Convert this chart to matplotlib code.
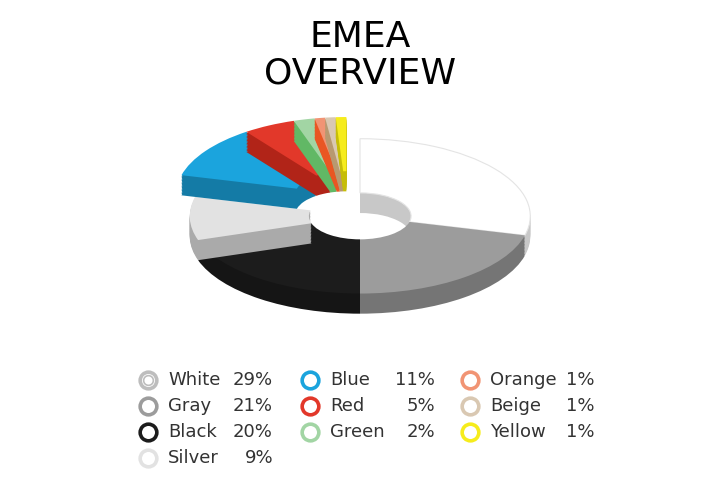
import matplotlib
matplotlib.use("Agg")
import matplotlib.pyplot as plt
from matplotlib.patches import Wedge
import colorsys
from matplotlib.colors import to_rgb

labels = ["White", "Gray", "Black", "Silver", "Blue", "Red", "Green", "Orange", "Beige", "Yellow"]
values = [29, 21, 20, 9, 11, 5, 2, 1, 1, 1]
colors = ["#ffffff", "#9c9c9c", "#1c1c1c", "#e2e2e2", "#1ba4dd", "#e2382a",
          "#a2d5a4", "#f19474", "#d9c8b2", "#f6ec1c"]
raised = ["Blue", "Red", "Green", "Orange", "Beige", "Yellow"]


def darker(c, f=0.75):
    r, g, b = to_rgb(c)
    h, l, s = colorsys.rgb_to_hls(r, g, b)
    return colorsys.hls_to_rgb(h, l * f, s)


fig = plt.figure(figsize=(7.2, 4.8), dpi=100)
ax = fig.add_axes([0.15, 1 - 340 / 480, 0.7, 240 / 480])
ax.set_xlim(-1.48, 1.48)
ax.set_ylim(-1.6, 1.5)
ax.axis("off")

depth = 0.26
steps = 14
angle = 90.0
slices = []
for lab, val, col in zip(labels, values, colors):
    span = val / 100 * 360
    slices.append((lab, angle - span, angle, col))
    angle -= span

for group in ("flat", "raised"):
    for lab, a0, a1, col in slices:
        up = lab in raised
        if (group == "raised") != up:
            continue
        cx, cy = (-0.08, 0.28) if up else (0.0, 0.0)
        side = "#c8c8c8" if lab == "White" else darker(col)
        for i in range(steps):
            dy = -depth + depth * i / steps
            ax.add_patch(Wedge((cx, cy + dy), 1.0, a0, a1, width=0.7,
                               facecolor=side, edgecolor="none"))
        ax.add_patch(Wedge((cx, cy), 1.0, a0, a1, width=0.7, facecolor=col,
                           edgecolor="#e4e4e4" if lab == "White" else "none", lw=0.8))

fig.text(0.5, 1 - 55 / 480, "EMEA\nOVERVIEW", ha="center", va="center",
         fontsize=26, linespacing=1.1,
         family=["Liberation Sans Narrow", "DejaVu Sans"])

cols_x = [148, 310, 470]
rows_y = [380, 406, 432, 458]
columns = [[0, 1, 2, 3], [4, 5, 6], [7, 8, 9]]
for cx, idxs in zip(cols_x, columns):
    for r, i in enumerate(idxs):
        x = cx / 720
        y = 1 - rows_y[r] / 480
        ec = "#bdbdbd" if labels[i] == "White" else colors[i]
        fig.lines.append(plt.Line2D([x], [y], marker="o", markersize=12,
                                    markerfacecolor="white", markeredgecolor=ec,
                                    markeredgewidth=2.6, transform=fig.transFigure))
        if labels[i] == "White":
            fig.lines.append(plt.Line2D([x], [y], marker="o", markersize=7,
                                        markerfacecolor="white", markeredgecolor=ec,
                                        markeredgewidth=1.2, transform=fig.transFigure))
        fig.text(x + 20 / 720, y, labels[i], va="center", fontsize=13, color="#333333")
        fig.text(x + 125 / 720, y, f"{values[i]}%", va="center", ha="right",
                 fontsize=13, color="#333333")

fig.savefig("out.png", dpi=100)
